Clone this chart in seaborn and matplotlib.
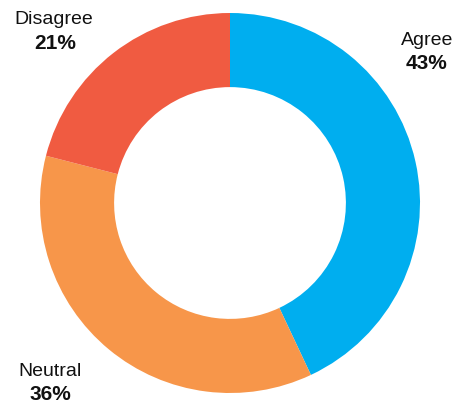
import matplotlib
matplotlib.use("Agg")
import matplotlib.pyplot as plt
import seaborn as sns

categories = ["Agree", "Neutral", "Disagree"]
values = [43, 36, 21]
pct_labels = ["43%", "36%", "21%"]
colors = ["#00AEEF", "#F7964A", "#F05B41"]

sns.set_theme(style="white")
plt.rcParams['font.family'] = ['Liberation Sans', 'DejaVu Sans']

fig = plt.figure(figsize=(4.56, 4.06), dpi=100)
ax = fig.add_axes([0, 0, 1, 1])
ax.pie(values, colors=sns.color_palette(colors), startangle=90, counterclock=False,
       radius=1.0, wedgeprops=dict(width=0.39, linewidth=0))
ax.set_aspect('auto')
R = 190.0
cx, cy = 230.0, 202.0
ax.set_xlim(-cx / R, (456 - cx) / R)
ax.set_ylim(-cy / R, (406 - cy) / R)
ax.axis('off')

def px(x, y):
    return ((x - cx) / R, ((406 - y) - cy) / R)

label_pos = {"Agree": (427, 40), "Neutral": (50, 371), "Disagree": (54, 19)}
pct_pos = {"Agree": (426, 63), "Neutral": (50, 395), "Disagree": (55, 43)}
for cat, pl in zip(categories, pct_labels):
    ax.text(*px(*label_pos[cat]), cat, ha='center', va='center', fontsize=14, color='#111111')
    ax.text(*px(*pct_pos[cat]), pl, ha='center', va='center', fontsize=15, fontweight='bold', color='#111111')

fig.savefig("out.png", dpi=100)
